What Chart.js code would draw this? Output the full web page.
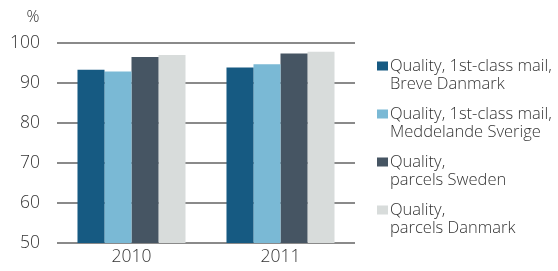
<!DOCTYPE html>
<html>
<head>
<meta charset="utf-8">
<script src="https://cdn.jsdelivr.net/npm/chart.js@4/dist/chart.umd.min.js"></script>
<style>
  html, body { margin: 0; padding: 0; background: #ffffff; }
  #wrap { width: 558px; height: 271px; position: relative; }
</style>
</head>
<body>
<div id="wrap"><canvas id="c" width="558" height="271"></canvas></div>
<script>
const categories = ["2010", "2011"];
const seriesLabels = [
  ["Quality, 1st-class mail,", "Breve Danmark"],
  ["Quality, 1st-class mail,", "Meddelande Sverige"],
  ["Quality,", "parcels Sweden"],
  ["Quality,", "parcels Danmark"]
];
const breveDanmark = [93.3, 93.9];
const meddelandeSverige = [92.9, 94.7];
const parcelsSweden = [96.5, 97.4];
const parcelsDanmark = [97.0, 97.8];
const seriesColors = ["#165a82", "#7ab9d5", "#465563", "#d8dcdb"];
const yTicks = [50, 60, 70, 80, 90, 100];
const unitLabel = "%";

const FONT = "'Open Sans', Lato, sans-serif";
const TEXT = "#333333";

const legendPlugin = {
  id: 'sideLegend',
  afterDraw(chart) {
    const ctx = chart.ctx;
    ctx.save();
    // unit label
    ctx.font = "300 16px " + FONT;
    ctx.fillStyle = TEXT;
    ctx.textAlign = "center";
    ctx.textBaseline = "middle";
    ctx.fillText(unitLabel, 33, 17);
    // legend
    const x0 = 377, tx = 390, y0 = 66, itemGap = 48, lineGap = 18.5;
    ctx.font = "300 16.5px " + FONT;
    ctx.textAlign = "left";
    chart.data.datasets.forEach((ds, i) => {
      const y = y0 + i * itemGap;
      ctx.fillStyle = ds.backgroundColor;
      ctx.fillRect(x0, y - 4.5, 11, 9);
      ctx.fillStyle = TEXT;
      const lines = Array.isArray(ds.label) ? ds.label : [ds.label];
      lines.forEach((ln, k) => ctx.fillText(ln, tx, y + k * lineGap));
    });
    ctx.restore();
  }
};

const data = {
  labels: categories,
  datasets: [breveDanmark, meddelandeSverige, parcelsSweden, parcelsDanmark].map((vals, i) => ({
    label: seriesLabels[i],
    data: vals,
    backgroundColor: seriesColors[i],
    borderWidth: 0,
    categoryPercentage: 0.725,
    barPercentage: 1.0
  }))
};

new Chart(document.getElementById('c'), {
  type: 'bar',
  data,
  plugins: [legendPlugin],
  options: {
    responsive: false,
    animation: false,
    devicePixelRatio: 1,
    layout: { padding: { top: 43, right: 203, left: 0, bottom: 0 } },
    plugins: { legend: { display: false }, tooltip: { enabled: false } },
    scales: {
      x: {
        grid: { display: false, drawTicks: false },
        border: { display: false },
        ticks: { color: TEXT, font: { family: FONT, size: 17.5, weight: 300 }, padding: 4 },
        afterFit(s) { s.height = 28; }
      },
      y: {
        min: 50, max: 100,
        afterBuildTicks(s) { s.ticks = yTicks.map(v => ({ value: v })); },
        grid: { color: "#8a8a8a", lineWidth: 2, drawTicks: false },
        border: { display: false },
        ticks: { color: TEXT, font: { family: FONT, size: 17.5, weight: 300 }, padding: 17 },
        afterFit(s) { s.width = 57; }
      }
    }
  }
});
</script>
</body>
</html>
